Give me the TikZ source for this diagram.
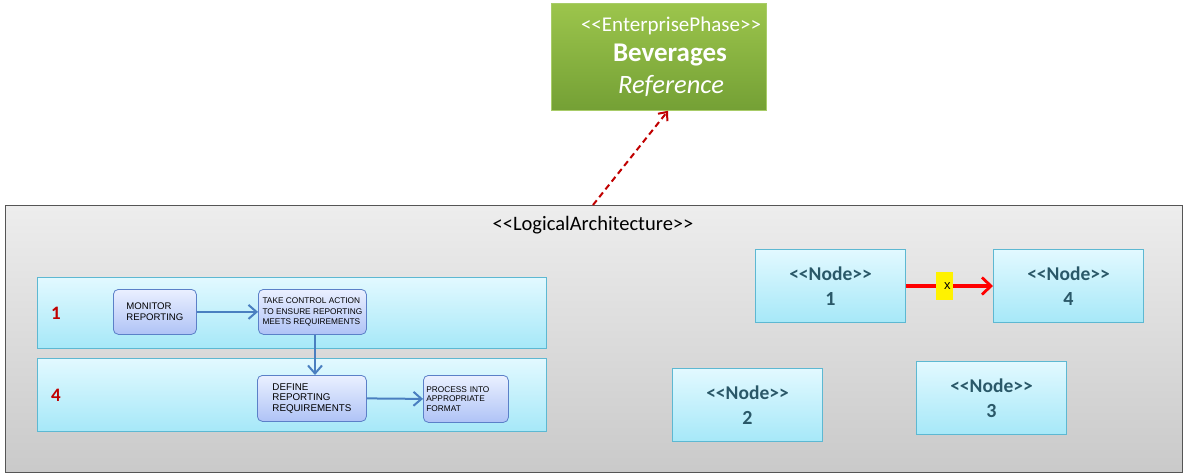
\documentclass[tikz,border=0pt]{standalone}
\usepackage{fontspec}
\setmainfont{Carlito}
\newfontfamily\boxfont{Liberation Sans}
\usetikzlibrary{arrows.meta}
\definecolor{archBorder}{HTML}{555555}
\definecolor{greenTop}{HTML}{9CC54C}
\definecolor{greenBot}{HTML}{74A035}
\definecolor{greenEdge}{HTML}{A8CC68}
\definecolor{laneTop}{HTML}{E2F9FF}
\definecolor{laneBot}{HTML}{A6E8F8}
\definecolor{laneEdge}{HTML}{5DB8D2}
\definecolor{actTop}{HTML}{EAF0FF}
\definecolor{actBot}{HTML}{AFC3F6}
\definecolor{actEdge}{HTML}{5B80C8}
\definecolor{flowBlue}{HTML}{4A7FC0}
\definecolor{nodeText}{HTML}{2A5868}
\definecolor{depRed}{HTML}{C00000}
\newcommand{\stereo}[1]{{<}{<}#1{>}{>}}
\tikzset{
  phasebox/.style={draw=greenEdge, line width=0.8pt, top color=greenTop, bottom color=greenBot,
    minimum width=215pt, minimum height=107pt, anchor=north west, inner sep=0pt},
  phasetext/.style={text=white, inner sep=0pt},
  archbox/.style={draw=archBorder, line width=1.4pt, top color=black!7, bottom color=black!21,
    minimum width=1177pt, minimum height=267pt, anchor=north west, inner sep=0pt},
  lanebox/.style={draw=laneEdge, line width=0.8pt, top color=laneTop, bottom color=laneBot,
    minimum width=509pt, anchor=north west, inner sep=0pt},
  lanelabel/.style={text=depRed, font=\bfseries\fontsize{19}{19}\selectfont},
  actbox/.style={draw=actEdge, line width=0.8pt, rounded corners=5pt, top color=actTop, bottom color=actBot,
    anchor=north west, inner sep=0pt, align=left},
  flow/.style={draw=flowBlue, line width=2pt, -{Straight Barb[length=8pt,width=14pt,line width=2pt]}},
  nodebox/.style={draw=laneEdge, line width=1pt, top color=laneTop, bottom color=laneBot,
    minimum width=150pt, minimum height=73pt, anchor=north west, inner sep=0pt,
    text=nodeText, align=center, font=\bfseries\fontsize{19.5}{25}\selectfont},
  depline/.style={draw=red, line width=3.2pt, -{Straight Barb[length=9pt,width=17pt,line width=2.8pt]}},
  realize/.style={draw=depRed, line width=2pt, dash pattern=on 6pt off 4pt,
    -{Straight Barb[length=7pt,width=12pt,line width=2pt]}},
}
\begin{document}
\begin{tikzpicture}[x=1pt,y=-1pt]
\useasboundingbox (0,0) rectangle (1184,475);

% enterprise phase
\node[phasebox] (phase) at (551,3) {};
\node[phasetext, font=\fontsize{21}{21}\selectfont] (phasestereo) at (671,26) {\stereo{EnterprisePhase}};
\node[phasetext, font=\bfseries\fontsize{27}{27}\selectfont] (phasename) at (670,55) {Beverages};
\node[phasetext, font=\itshape\fontsize{26.5}{27}\selectfont] (phasekind) at (671,86) {Reference};

% logical architecture container
\node[archbox] (arch) at (5,205) {};
\node[font=\fontsize{20.5}{21}\selectfont, inner sep=0pt] (archtitle) at (593,225) {\stereo{LogicalArchitecture}};

\draw[realize] (593,205) coordinate (dstart) -- (phase.south -| 668,0);

% swim lanes
\node[lanebox, minimum height=71pt] (lane1) at (37,277) {};
\node[lanebox, minimum height=73pt] (lane4) at (37,358) {};
\node[lanelabel] (l1) at (56,313) {1};
\node[lanelabel] (l4) at (56,395) {4};

% activities
\node[actbox, minimum width=83pt, minimum height=45pt,
  font=\boxfont\fontsize{9.6}{11}\selectfont] (monitor) at (113,289) {MONITOR\\REPORTING};
\node[actbox, minimum width=108pt, minimum height=45pt,
  font=\boxfont\fontsize{8.3}{10.5}\selectfont] (control) at (258,289)
  {TAKE CONTROL ACTION\\TO ENSURE REPORTING\\MEETS REQUIREMENTS};
\node[actbox, minimum width=109pt, minimum height=46pt,
  font=\boxfont\fontsize{9.8}{10.5}\selectfont] (define) at (257,375)
  {DEFINE\\REPORTING\\REQUIREMENTS};
\node[actbox, inner xsep=3pt, text width=79pt, minimum height=47pt,
  font=\boxfont\fontsize{8.3}{9.6}\selectfont] (process) at (423,375)
  {PROCESS INTO\\APPROPRIATE\\FORMAT};

\draw[flow] (monitor.east) -- (control.west);
\draw[flow] (control.south -| 315,0) -- (define.north -| 315,0);
\draw[flow] (define.east) -- (process.west);

% deployment nodes
\node[nodebox] (n1) at (755,249) {\stereo{Node}\\{\fontsize{20}{25}\selectfont 1}};
\node[nodebox] (n4) at (993,249) {\stereo{Node}\\{\fontsize{20}{25}\selectfont 4}};
\node[nodebox] (n2) at (672,368) {\stereo{Node}\\{\fontsize{20}{25}\selectfont 2}};
\node[nodebox] (n3) at (916,361) {\stereo{Node}\\{\fontsize{20}{25}\selectfont 3}};

\draw[depline] (n1.east) -- node[pos=0.44, fill=yellow, minimum width=17pt, minimum height=28pt,
  inner sep=0pt, text=black, font=\boxfont\fontsize{13}{13}\selectfont] (xmark)
  {\hspace{6pt}\raisebox{-4pt}{x}} (n4.west);
\end{tikzpicture}
\end{document}
